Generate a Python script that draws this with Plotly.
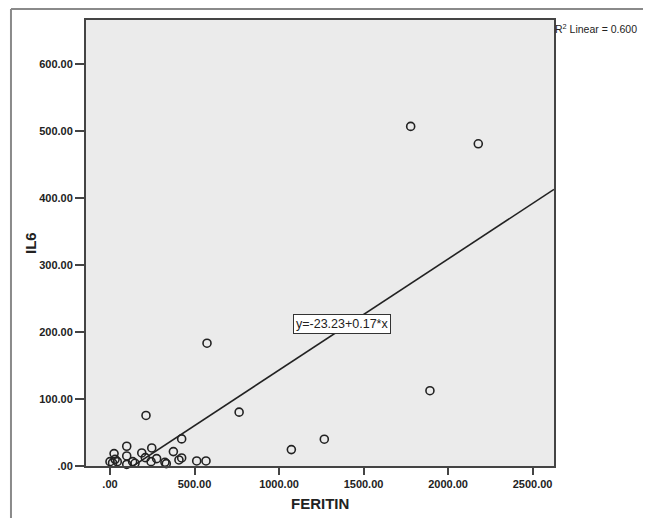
import plotly.graph_objects as go

# Data (FERITIN vs IL6)
feritin = [1779, 2179, 1893, 574, 764, 1073, 1268, 213, 424, 99, 24, 99, 188, 247,
           375, 209, 276, 424, 408, 0, 30, 43, 99, 134, 148, 243, 325, 333, 513, 568, 15]
il6 = [507, 481, 112, 183, 80, 24, 39.5, 75, 40, 29, 18, 14.5, 19, 26.5,
       21, 12, 10.5, 11.5, 8.5, 6, 9.5, 6, 2, 6, 3.5, 6, 5, 3, 7, 7, 4]

intercept = -23.23
slope = 0.166
r2_text = "R<sup>2</sup> Linear = 0.600"
eq_text = "y=-23.23+0.17*x"
x_title = "FERITIN"
y_title = "IL6"

x_ticks = [0, 500, 1000, 1500, 2000, 2500]
x_tick_labels = [".00", "500.00", "1000.00", "1500.00", "2000.00", "2500.00"]
y_ticks = [0, 100, 200, 300, 400, 500, 600]
y_tick_labels = [".00", "100.00", "200.00", "300.00", "400.00", "500.00", "600.00"]

x_range = [-142, 2627]
y_range = [-0.5, 666]

# page body adds an 8px margin, so the figure is 8px smaller than the window
W, H = 643, 510
L, R, T, B = 78, 97, 12, 52

font_family = "Liberation Sans, Arial, sans-serif"
dark = "#222222"

fig = go.Figure()

line_x = [x_range[0], x_range[1]]
line_y = [intercept + slope * v for v in line_x]
fig.add_trace(go.Scatter(x=line_x, y=line_y, mode="lines",
                         line=dict(color=dark, width=1.6),
                         hoverinfo="skip", showlegend=False))

fig.add_trace(go.Scatter(x=feritin, y=il6, mode="markers",
                         marker=dict(symbol="circle-open", size=8,
                                     color=dark, line=dict(width=1.6, color=dark)),
                         cliponaxis=False, showlegend=False))

axis_common = dict(showgrid=False, zeroline=False, showline=True, mirror=True,
                   linecolor="#444444", linewidth=2, ticks="outside",
                   tickcolor="#444444", tickwidth=1.5, automargin=False,
                   tickfont=dict(family=font_family, size=11, color=dark, weight="bold"))

fig.update_xaxes(range=x_range, tickvals=x_ticks, ticktext=x_tick_labels, ticklen=7,
                 **axis_common)
fig.update_yaxes(range=y_range, tickvals=y_ticks, ticktext=y_tick_labels, ticklen=9,
                 **axis_common)

title_font = dict(family=font_family, size=15, color=dark, weight="bold")
fig.add_annotation(x=0.5, y=-0.083, xref="paper", yref="paper", text=x_title,
                   showarrow=False, xanchor="center", yanchor="middle", font=title_font)
fig.add_annotation(x=-0.1197, y=0.5, xref="paper", yref="paper", text=y_title,
                   showarrow=False, xanchor="center", yanchor="middle", textangle=-90,
                   font=title_font)

fig.add_annotation(x=1371, y=212, xref="x", yref="y", text=eq_text, showarrow=False,
                   font=dict(family=font_family, size=12.5, color=dark),
                   bgcolor="white", bordercolor="#333333", borderwidth=1, borderpad=2)

fig.add_annotation(x=1.0, y=0.982, xref="paper", yref="paper", text=r2_text,
                   showarrow=False, xanchor="left", yanchor="middle", borderpad=0,
                   font=dict(family=font_family, size=10.5, color=dark))

# outer frame (top and left edges visible in the reference)
fig.add_shape(type="line", xref="paper", yref="paper",
              x0=-0.1603, x1=1.25, y0=1.0247, y1=1.0247,
              line=dict(color="#8a8a8a", width=2))
fig.add_shape(type="line", xref="paper", yref="paper",
              x0=-0.1603, x1=-0.1603, y0=1.0247, y1=-0.2,
              line=dict(color="#8a8a8a", width=2))

fig.update_layout(width=W, height=H, margin=dict(l=L, r=R, t=T, b=B, autoexpand=False),
                  plot_bgcolor="#ebebeb", paper_bgcolor="white")

fig.write_html("out.html")
